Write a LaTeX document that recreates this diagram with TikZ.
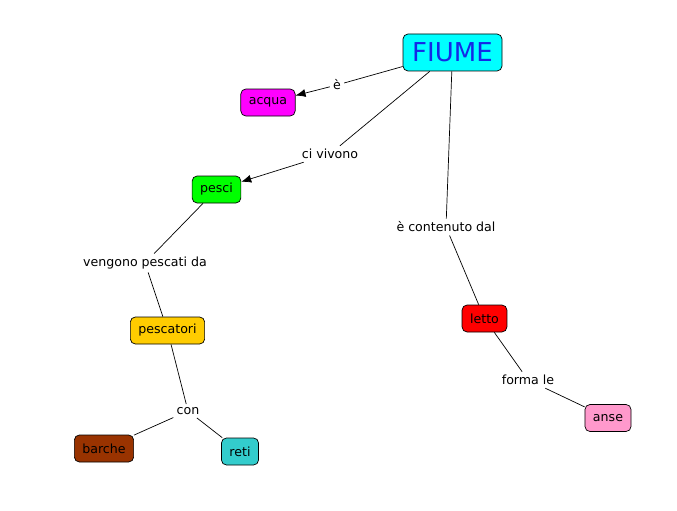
\documentclass[tikz,border=0pt]{standalone}
\usepackage{fontspec}
\setmainfont{DejaVu Sans}
\usetikzlibrary{arrows.meta}
\definecolor{cmcyan}{RGB}{0,255,255}
\definecolor{cmmagenta}{RGB}{255,0,255}
\definecolor{cmgreen}{RGB}{0,255,0}
\definecolor{cmgold}{RGB}{255,204,0}
\definecolor{cmbrown}{RGB}{153,51,0}
\definecolor{cmteal}{RGB}{51,204,204}
\definecolor{cmred}{RGB}{255,0,0}
\definecolor{cmpink}{RGB}{255,153,204}
\definecolor{cmblue}{RGB}{20,40,230}
\begin{document}
\begin{tikzpicture}[x=1pt,y=-1pt,line width=0.7pt,
		concept/.style={draw=black,rounded corners=5pt,inner xsep=8pt,minimum height=27pt,font=\fontsize{12.6}{14}\selectfont},
		linking/.style={inner sep=3pt,font=\fontsize{12.6}{14}\selectfont},
		tip/.style={-{Latex[length=10pt,width=8pt]}}]
	\useasboundingbox (0,0) rectangle (677,511);
	% concepts
	\node[concept,fill=cmcyan,text=cmblue,font=\fontsize{26}{28}\selectfont,minimum width=99pt,minimum height=37pt] (fiume) at (452.5,52.5) {FIUME};
	\node[concept,fill=cmmagenta] (acqua) at (268,102.5) {acqua};
	\node[concept,fill=cmgreen] (pesci) at (216.5,189.5) {pesci};
	\node[concept,fill=cmgold] (pescatori) at (167.5,330.5) {pescatori};
	\node[concept,fill=cmbrown] (barche) at (104,448.5) {barche};
	\node[concept,fill=cmteal] (reti) at (240,451.5) {reti};
	\node[concept,fill=cmred] (letto) at (484.5,318.5) {letto};
	\node[concept,fill=cmpink] (anse) at (608,418) {anse};
	% linking phrases
	\node[linking] (e) at (337,85) {è};
	\node[linking] (civivono) at (330,154) {ci vivono};
	\node[linking] (vengono) at (145,263) {vengono pescati da};
	\node[linking] (con) at (188,411) {con};
	\node[linking] (contenuto) at (446,227) {è contenuto dal};
	\node[linking] (forma) at (528,380) {forma le};
	% connectors
	\draw (fiume) -- (e);
	\draw[tip] (e) -- (acqua);
	\draw (fiume) -- (civivono);
	\draw[tip] (civivono) -- (pesci);
	\draw (pesci) -- (vengono);
	\draw (vengono) -- (pescatori);
	\draw (pescatori) -- (con);
	\draw (con) -- (barche);
	\draw (con) -- (reti);
	\draw (fiume) -- (contenuto);
	\draw (contenuto) -- (letto);
	\draw (letto) -- (forma);
	\draw (forma) -- (anse);
\end{tikzpicture}
\end{document}
